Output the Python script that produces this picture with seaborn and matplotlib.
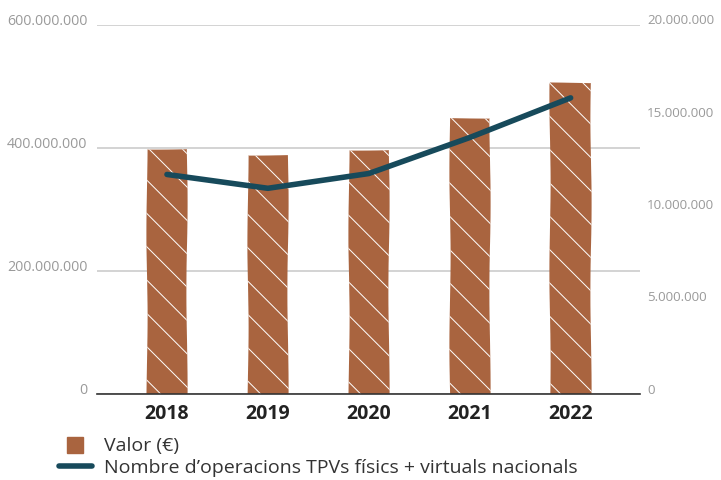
import pandas as pd
import matplotlib.pyplot as plt
import matplotlib.transforms as mtransforms
import seaborn as sns
from matplotlib.ticker import FuncFormatter
from matplotlib.lines import Line2D

# Dades llegides del gràfic
anys = ["2018", "2019", "2020", "2021", "2022"]
valor = [398_000_000, 389_000_000, 397_000_000, 449_000_000, 506_000_000]
operacions = [11_900_000, 11_150_000, 11_950_000, 13_900_000, 16_050_000]

df = pd.DataFrame({"Any": anys, "Valor": valor, "Operacions": operacions})

sns.set_theme(style="white")
plt.rcParams["font.family"] = ["Open Sans", "DejaVu Sans"]
plt.rcParams["hatch.linewidth"] = 0.7

color_barra = "#a9643f"
color_linia = "#174a5b"
gris = "#9a9a9a"

fig = plt.figure(figsize=(7.21, 4.8), dpi=100)
ax = fig.add_axes([0.135, 0.179, 0.753, 0.769])

sns.barplot(data=df, x="Any", y="Valor", color=color_barra, width=0.4,
            saturation=1, ax=ax)
for p in ax.patches:
    p.set_hatch("\\")
    p.set_edgecolor("white")
    p.set_linewidth(0)
    p.set_sketch_params(0.6, 200, 2)

ax.set_ylim(0, 600_000_000)
ax.set_yticks([0, 200_000_000, 400_000_000, 600_000_000])
fmt = FuncFormatter(lambda v, pos: f"{int(v):,}".replace(",", "."))
ax.yaxis.set_major_formatter(fmt)
ax.set_xlim(-0.69, 4.69)
ax.grid(axis="y", color="#cccccc", linewidth=1.2)
ax.set_axisbelow(True)
for s in ["top", "right", "left"]:
    ax.spines[s].set_visible(False)
ax.spines["bottom"].set_color("#333333")
ax.spines["bottom"].set_linewidth(1.2)
ax.set_xlabel("")
ax.set_ylabel("")
ax.tick_params(axis="y", colors=gris, labelsize=10.3, length=0, pad=7)
ax.tick_params(axis="x", colors="#222222", labelsize=14, length=0, pad=7)
for t in ax.get_xticklabels():
    t.set_fontweight("bold")

ax2 = ax.twinx()
sns.lineplot(data=df, x="Any", y="Operacions", color=color_linia,
             linewidth=4, ax=ax2, solid_capstyle="round", sort=False)
ax2.set_ylim(0, 20_000_000)
ax2.set_yticks([0, 5_000_000, 10_000_000, 15_000_000, 20_000_000])
ax2.yaxis.set_major_formatter(fmt)
ax2.tick_params(axis="y", colors=gris, labelsize=9.6, length=0, pad=5)
ax2.set_ylabel("")
for s in ax2.spines.values():
    s.set_visible(False)
ax2.grid(False)

# etiquetes lleugerament per sobre de les línies de la graella
despl = mtransforms.ScaledTranslation(0, 4 / 72, fig.dpi_scale_trans)
for t in ax.get_yticklabels():
    t.set_transform(t.get_transform() + despl)
for t in ax2.get_yticklabels():
    t.set_transform(t.get_transform() + despl)

handles = [
    Line2D([0], [0], marker="s", color="none", markerfacecolor=color_barra,
           markeredgecolor=color_barra, markersize=12),
    Line2D([0], [0], color=color_linia, linewidth=4, solid_capstyle="round"),
]
fig.legend(handles, ["Valor (€)", "Nombre d’operacions TPVs físics + virtuals nacionals"],
           loc="upper left", bbox_to_anchor=(0.071, 0.105), frameon=False,
           fontsize=14, handlelength=1.7, handletextpad=0.6, labelspacing=0.2,
           labelcolor="#333333", borderaxespad=0)

fig.savefig("out.png", dpi=100)
